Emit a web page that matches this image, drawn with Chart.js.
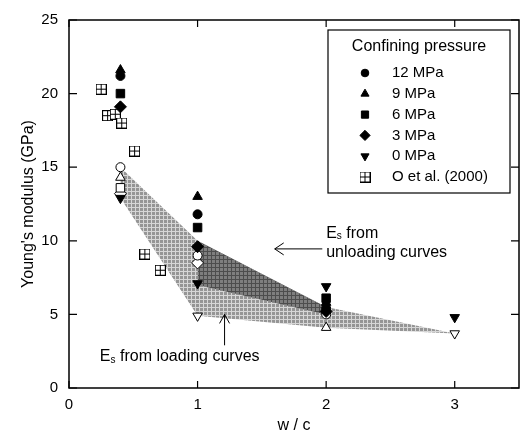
<!DOCTYPE html>
<html>
<head>
<meta charset="utf-8">
<script src="https://cdn.jsdelivr.net/npm/chart.js@4.4.0/dist/chart.umd.min.js"></script>
<style>
  html, body { margin: 0; padding: 0; background: #fff; }
</style>
</head>
<body>
<canvas id="modulusChart" width="528" height="435"></canvas>
<script>
// E from unloading curves (filled markers), one set per confining pressure
let wc12 = [0.4, 1, 2];
let e12 = [21.2, 11.8, 5.4];
let wc9 = [0.4, 1, 2];
let e9 = [21.6, 13.0, 5.8];
let wc6 = [0.4, 1, 2];
let e6 = [20.0, 10.9, 6.1];
let wc3 = [0.4, 1, 2];
let e3 = [19.1, 9.6, 5.2];
let wc0 = [0.4, 1, 2, 3];
let e0 = [12.9, 7.1, 6.9, 4.8];

// Es from loading curves (open markers)
let wcOpen12 = [0.4, 1, 2];
let eOpen12 = [15.0, 9.0, 5.0];
let wcOpen9 = [0.4, 2];
let eOpen9 = [14.3, 4.1];
let wcOpen6 = [0.4];
let eOpen6 = [13.6];
let wcOpen3 = [0.4, 1];
let eOpen3 = [13.2, 8.5];
let wcOpen0 = [1, 3];
let eOpen0 = [4.9, 3.7];

// O et al. (2000)
let wcO = [0.25, 0.3, 0.36, 0.41, 0.51, 0.59, 0.71];
let eO = [20.3, 18.5, 18.6, 18.0, 16.1, 9.1, 8.0];

// shaded bands
let bandLoadX = [0.4, 1, 2, 3];
let bandLoadTop = [15.0, 10.0, 5.5, 3.7];
let bandLoadBottom = [12.9, 4.9, 4.1, 3.7];
let bandUnloadX = [1, 2];
let bandUnloadTop = [10.0, 5.5];
let bandUnloadBottom = [7.0, 5.0];

let xTicks = [0, 1, 2, 3];
let yTicks = [0, 5, 10, 15, 20, 25];

const FONT = '"Liberation Sans", Arial, sans-serif';
let canvas = document.getElementById('modulusChart');
let ctx0 = canvas.getContext('2d');

function pts(xs, ys) {
  return xs.map((x, i) => ({ x: x, y: ys[i] }));
}

function hatch(base, line) {
  let tile = document.createElement('canvas');
  tile.width = 4; tile.height = 4;
  let g = tile.getContext('2d');
  g.fillStyle = base;
  g.fillRect(0, 0, 4, 4);
  g.fillStyle = line;
  g.fillRect(0, 3, 4, 1);
  g.fillRect(3, 0, 1, 4);
  return ctx0.createPattern(tile, 'repeat');
}

// square with a cross for O et al.
let crossBox = document.createElement('canvas');
crossBox.width = 11; crossBox.height = 11;
(function () {
  let g = crossBox.getContext('2d');
  g.strokeStyle = '#000';
  g.lineWidth = 1;
  g.fillStyle = '#fff';
  g.fillRect(0.5, 0.5, 10, 10);
  g.strokeRect(0.5, 0.5, 10, 10);
  g.beginPath();
  g.moveTo(5.5, 0.5); g.lineTo(5.5, 10.5);
  g.moveTo(0.5, 5.5); g.lineTo(10.5, 5.5);
  g.stroke();
})();

function marker(label, data, style, radius, rotation, filled) {
  return {
    label: label,
    data: data,
    showLine: false,
    pointStyle: style,
    pointRadius: radius,
    pointRotation: rotation,
    pointBorderWidth: 1,
    pointBorderColor: '#000',
    pointBackgroundColor: filled ? '#000' : '#fff',
    order: 0
  };
}

let datasets = [
  marker('12 MPa', pts(wc12, e12), 'circle', 4.5, 0, true),
  marker('9 MPa', pts(wc9, e9), 'triangle', 5.5, 0, true),
  marker('6 MPa', pts(wc6, e6), 'rect', 6, 0, true),
  marker('3 MPa', pts(wc3, e3), 'rectRot', 6, 0, true),
  marker('0 MPa', pts(wc0, e0), 'triangle', 5.5, 180, true),
  marker('O et al. (2000)', pts(wcO, eO), crossBox, 5.5, 0, true),
  marker('', pts(wcOpen12, eOpen12), 'circle', 4.5, 0, false),
  marker('', pts(wcOpen9, eOpen9), 'triangle', 5.5, 0, false),
  marker('', pts(wcOpen6, eOpen6), 'rect', 6, 0, false),
  marker('', pts(wcOpen3, eOpen3), 'rectRot', 6, 0, false),
  marker('', pts(wcOpen0, eOpen0), 'triangle', 5.5, 180, false),
  {
    label: '',
    data: pts(bandUnloadX, bandUnloadTop),
    borderWidth: 0,
    pointRadius: 0,
    fill: '+1',
    backgroundColor: hatch('#7e7e7e', '#4d4d4d'),
    order: 1
  },
  {
    label: '',
    data: pts(bandUnloadX, bandUnloadBottom),
    borderWidth: 0,
    pointRadius: 0,
    fill: false,
    order: 1
  },
  {
    label: '',
    data: pts(bandLoadX, bandLoadTop),
    borderWidth: 0,
    pointRadius: 0,
    fill: '+1',
    backgroundColor: hatch('#959595', '#d6d6d6'),
    order: 2
  },
  {
    label: '',
    data: pts(bandLoadX, bandLoadBottom),
    borderWidth: 0,
    pointRadius: 0,
    fill: false,
    order: 2
  }
];

// frame and inward ticks
let framePlugin = {
  id: 'frame',
  afterDraw(chart) {
    let ctx = chart.ctx;
    let a = chart.chartArea;
    let xs = chart.scales.x, ys = chart.scales.y;
    ctx.save();
    ctx.strokeStyle = '#000';
    ctx.lineWidth = 1.5;
    ctx.strokeRect(a.left, a.top, a.right - a.left, a.bottom - a.top);
    ctx.lineWidth = 1.2;
    ctx.beginPath();
    xTicks.forEach(v => {
      let px = xs.getPixelForValue(v);
      ctx.moveTo(px, a.bottom); ctx.lineTo(px, a.bottom - 7);
      ctx.moveTo(px, a.top); ctx.lineTo(px, a.top + 7);
    });
    yTicks.forEach(v => {
      let py = ys.getPixelForValue(v);
      ctx.moveTo(a.left, py); ctx.lineTo(a.left + 8, py);
      ctx.moveTo(a.right, py); ctx.lineTo(a.right - 8, py);
    });
    ctx.stroke();
    ctx.restore();
  }
};

function drawEs(ctx, x, y, rest) {
  ctx.font = '16px ' + FONT;
  ctx.fillText('E', x, y);
  let w = ctx.measureText('E').width;
  ctx.font = '10px ' + FONT;
  ctx.fillText('s', x + w, y + 3);
  let w2 = ctx.measureText('s').width;
  ctx.font = '16px ' + FONT;
  ctx.fillText(rest, x + w + w2, y);
}

let notesPlugin = {
  id: 'notes',
  afterDraw(chart) {
    let ctx = chart.ctx;
    let xs = chart.scales.x, ys = chart.scales.y;
    ctx.save();
    ctx.fillStyle = '#000';
    ctx.strokeStyle = '#000';
    ctx.textBaseline = 'middle';
    ctx.textAlign = 'left';

    drawEs(ctx, xs.getPixelForValue(2.0), ys.getPixelForValue(10.5), ' from');
    ctx.fillText('unloading curves', xs.getPixelForValue(2.0), ys.getPixelForValue(9.2));
    drawEs(ctx, xs.getPixelForValue(0.24), ys.getPixelForValue(2.1), ' from loading curves');

    ctx.lineWidth = 1;
    // left arrow to unloading band
    let ax0 = xs.getPixelForValue(1.97), ax1 = xs.getPixelForValue(1.6), ay = ys.getPixelForValue(9.45);
    ctx.beginPath();
    ctx.moveTo(ax0, ay); ctx.lineTo(ax1, ay);
    ctx.moveTo(ax1 + 9, ay - 6); ctx.lineTo(ax1, ay); ctx.lineTo(ax1 + 9, ay + 6);
    ctx.stroke();
    // up arrow to loading band
    let bx = xs.getPixelForValue(1.21), by0 = ys.getPixelForValue(2.9), by1 = ys.getPixelForValue(5.0);
    ctx.beginPath();
    ctx.moveTo(bx, by0); ctx.lineTo(bx, by1);
    ctx.moveTo(bx - 5, by1 + 9); ctx.lineTo(bx, by1); ctx.lineTo(bx + 5, by1 + 9);
    ctx.stroke();
    ctx.restore();
  }
};

// legend box inside the plot
let legendBoxPlugin = {
  id: 'legendBox',
  afterDraw(chart) {
    let ctx = chart.ctx;
    let left = 328, top = 30, right = 510, bottom = 193;
    ctx.save();
    ctx.fillStyle = '#fff';
    ctx.fillRect(left, top, right - left, bottom - top);
    ctx.strokeStyle = '#000';
    ctx.lineWidth = 1.2;
    ctx.strokeRect(left, top, right - left, bottom - top);
    ctx.fillStyle = '#000';
    ctx.textBaseline = 'middle';
    ctx.textAlign = 'center';
    ctx.font = '16px ' + FONT;
    ctx.fillText('Confining pressure', (left + right) / 2, 47);
    ctx.textAlign = 'left';
    ctx.font = '15px ' + FONT;
    let items = chart.data.datasets.filter(d => d.label);
    items.forEach((d, i) => {
      let y = 73 + i * 20.8;
      ctx.fillStyle = '#000';
      ctx.strokeStyle = '#000';
      ctx.lineWidth = 1;
      Chart.helpers.drawPoint(ctx, {
        pointStyle: d.pointStyle,
        radius: d.pointRadius * 0.85,
        rotation: d.pointRotation,
        borderWidth: 1
      }, 365, y);
      ctx.fillStyle = '#000';
      ctx.fillText(d.label, 392, y);
    });
    ctx.restore();
  }
};

let modulusChart = new Chart(canvas, {
  type: 'line',
  data: { datasets: datasets },
  options: {
    responsive: false,
    animation: false,
    layout: { padding: { top: 15, right: 9, left: 0, bottom: 0 } },
    plugins: {
      legend: { display: false },
      tooltip: { enabled: false }
    },
    scales: {
      x: {
        type: 'linear',
        min: 0,
        max: 3.5,
        afterFit: s => { s.height = 47; },
        afterBuildTicks: s => { s.ticks = xTicks.map(v => ({ value: v })); },
        grid: { display: false, drawTicks: false },
        border: { display: false },
        ticks: { color: '#000', padding: 8, font: { family: FONT, size: 15 } },
        title: {
          display: true,
          text: 'w / c',
          color: '#000',
          padding: { top: 0, bottom: 0 },
          font: { family: FONT, size: 16 }
        }
      },
      y: {
        min: 0,
        max: 25,
        afterFit: s => { s.width = 69; },
        afterBuildTicks: s => { s.ticks = yTicks.map(v => ({ value: v })); },
        grid: { display: false, drawTicks: false },
        border: { display: false },
        ticks: { color: '#000', padding: 11, font: { family: FONT, size: 15 } },
        title: {
          display: true,
          text: "Young's modulus (GPa)",
          color: '#000',
          padding: { top: 19, bottom: 0 },
          font: { family: FONT, size: 16 }
        }
      }
    }
  },
  plugins: [framePlugin, notesPlugin, legendBoxPlugin]
});
</script>
</body>
</html>
